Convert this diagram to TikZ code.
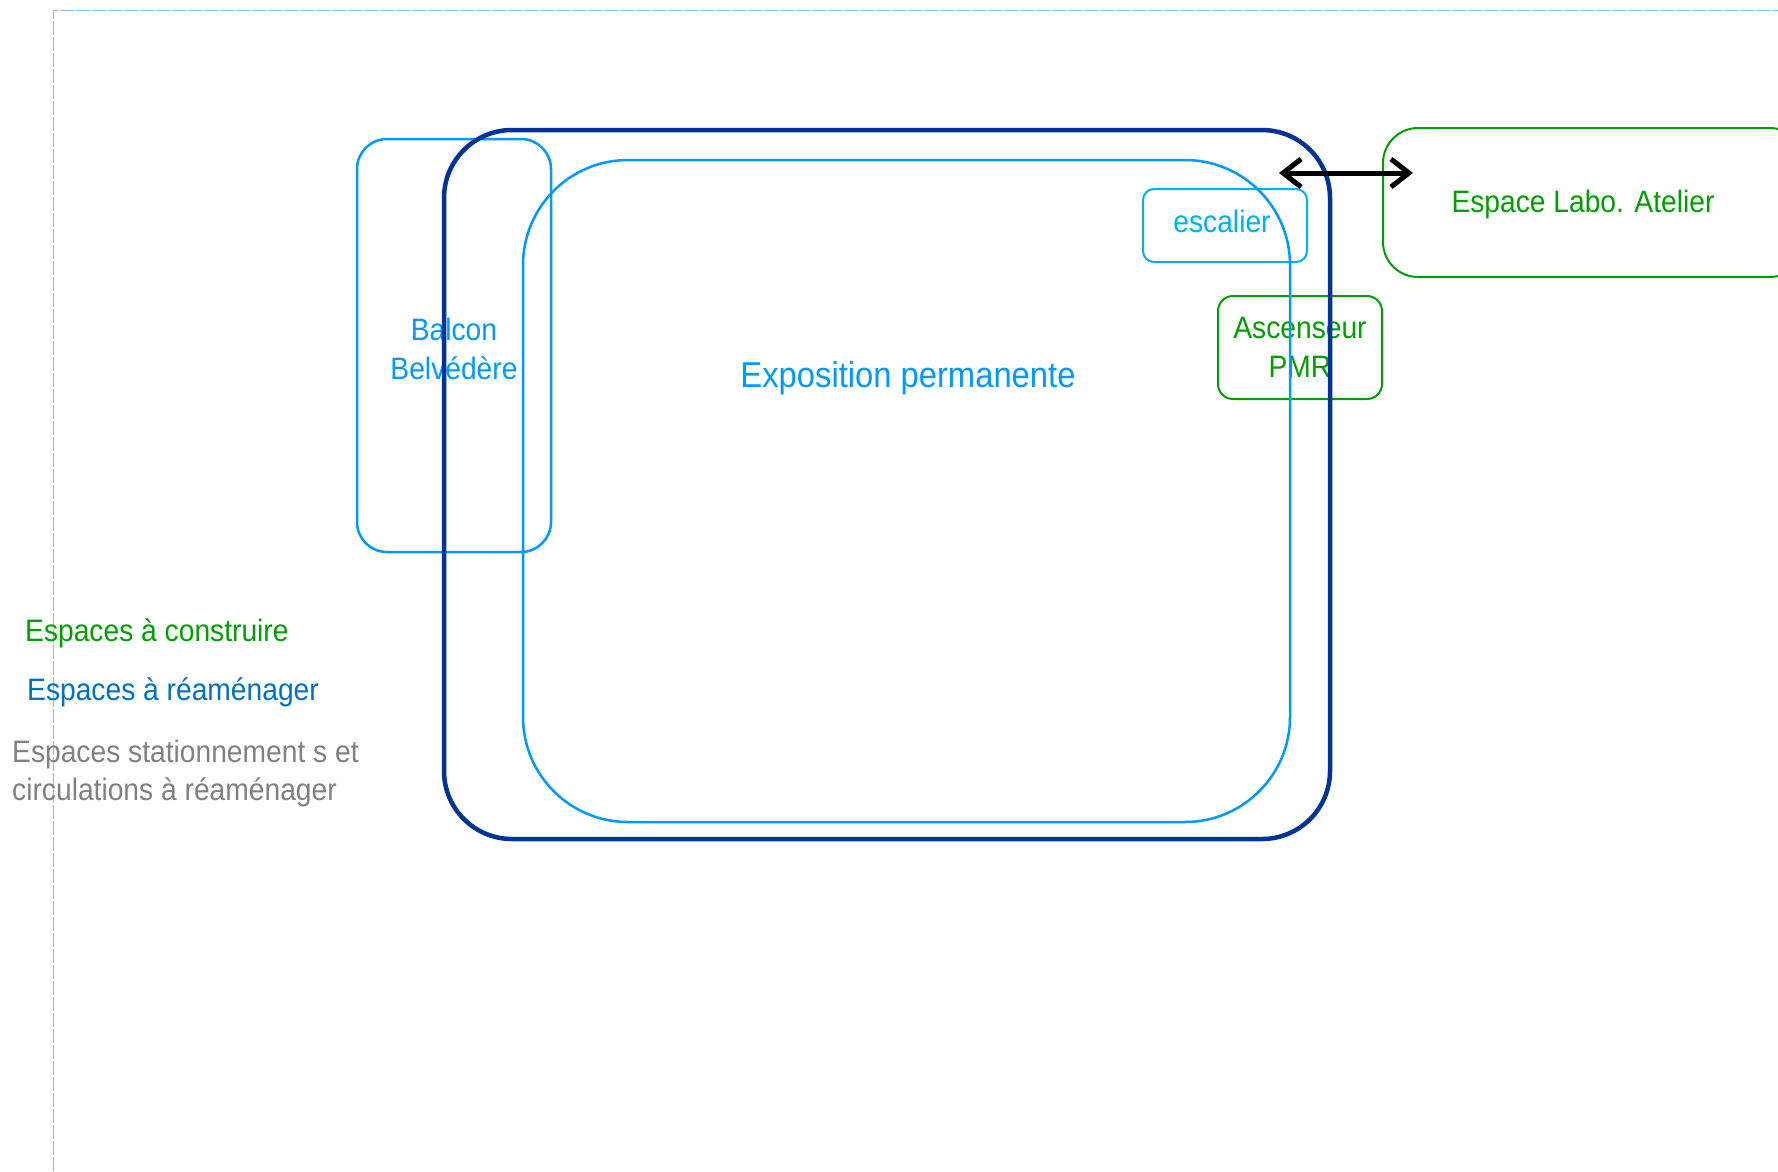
\documentclass[tikz,border=0pt]{standalone}
\usepackage{fontspec}
\setmainfont[FakeStretch=0.91]{Liberation Sans}
\usetikzlibrary{arrows.meta}

\definecolor{darkblue}{HTML}{003399}
\definecolor{lightblue}{HTML}{0099FF}
\definecolor{cyanblue}{HTML}{00B0F0}
\definecolor{buildgreen}{HTML}{009F00}
\definecolor{legendblue}{HTML}{0070C0}
\definecolor{legendgray}{HTML}{808080}
\definecolor{framecol}{HTML}{8DBBE6}

\tikzset{
  zone/.style={draw, rounded corners=#1, inner sep=0pt, align=center},
  txt/.style={inner sep=0pt, align=center, font=\fontsize{31}{39}\selectfont},
  legend/.style={inner sep=0pt, align=left, font=\fontsize{31}{38}\selectfont},
}

\begin{document}
\begin{tikzpicture}[x=1pt,y=-1pt]
\useasboundingbox (0,0) rectangle (1778,1171);
\clip (0,0) rectangle (1778,1171);

% page frame
\draw[framecol, line width=1pt, dash pattern=on 14pt off 2pt] (53,1171) -- (53,10) -- (1778,10);

% legend
\node[legend, text=buildgreen, anchor=base west] (legBuild) at (25,641) {Espaces à construire};
\node[legend, text=legendblue, anchor=base west] (legRefit) at (27,700) {Espaces à réaménager};
\node[legend, text=legendgray, anchor=base west] (legPark) at (12,800) {Espaces stationnement s et\\circulations à réaménager};

% small zones
\node[zone=30pt, lightblue, line width=2.5pt, minimum width=194pt, minimum height=413pt] (balcon) at (454,345.5) {};
\node[txt, text=lightblue] (balconText) at (454,349) {Balcon\\Belvédère};
\node[zone=11pt, cyanblue, line width=2pt, minimum width=164pt, minimum height=73pt] (escalier) at (1225,225.5) {};
\node[txt, text=cyanblue, anchor=base] (escalierText) at (1222,232) {escalier};
\node[zone=15pt, buildgreen, line width=2pt, minimum width=164pt, minimum height=103pt] (ascenseur) at (1300,347.5) {};
\node[txt, text=buildgreen] (ascenseurText) at (1300,347.5) {Ascenseur\\PMR};
\node[zone=35pt, buildgreen, line width=2pt, minimum width=422pt, minimum height=149pt] (labo) at (1594,202.5) {};
\node[txt, text=buildgreen, anchor=base] (laboText) at (1583,212) {Espace Labo. Atelier};

% permanent exhibition
\node[txt, font=\fontsize{36}{44}\selectfont, text=lightblue, anchor=base] (expoText) at (908,387) {Exposition permanente};
\node[zone=105pt, lightblue, line width=2.5pt, minimum width=767pt, minimum height=662pt] (expo) at (906.5,491) {};

% building outline
\node[zone=68pt, darkblue, line width=4.5pt, minimum width=886pt, minimum height=709pt] (building) at (887,484.5) {};

% link to the workshop
\coordinate (arrL) at (1279,173);
\coordinate (arrR) at (1413,173);
\draw[line width=5pt, {Straight Barb[length=18pt,width=28pt]}-{Straight Barb[length=18pt,width=28pt]}] (arrL) -- (arrR);
\end{tikzpicture}
\end{document}
